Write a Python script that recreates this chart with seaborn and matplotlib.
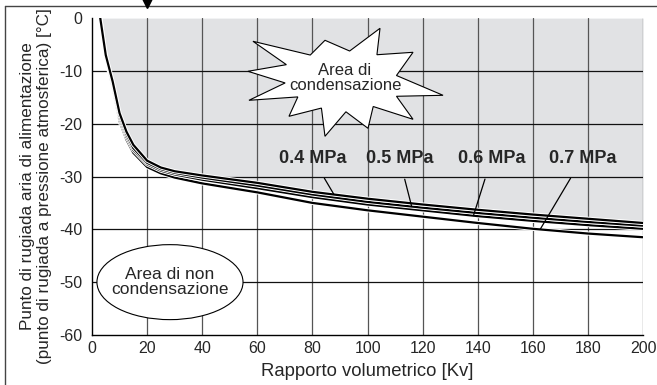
import numpy as np
import pandas as pd
import matplotlib
matplotlib.use("Agg")
import matplotlib.pyplot as plt
import matplotlib.patheffects as pe
from matplotlib.patches import Ellipse, Polygon
from matplotlib.lines import Line2D
import seaborn as sns

# Dati
rapporto = [3, 5, 7.5, 10, 12.5, 15, 20, 25, 30, 40, 60, 80, 100, 120, 140, 160, 180, 200]
punto_04 = [0, -7.0, -12.0, -18.0, -21.5, -24.0, -27.0, -28.3, -29.0, -29.8, -31.2, -32.9, -34.2, -35.3, -36.3, -37.2, -38.0, -38.8]
punto_05 = [0, -7.2, -12.3, -18.5, -22.0, -24.6, -27.4, -28.6, -29.3, -30.2, -31.7, -33.4, -34.8, -35.9, -36.9, -37.8, -38.6, -39.3]
punto_06 = [0, -7.4, -12.6, -19.0, -22.5, -25.0, -27.7, -28.9, -29.6, -30.6, -32.2, -33.9, -35.3, -36.4, -37.5, -38.4, -39.2, -39.9]
punto_07 = [0, -7.6, -13.0, -19.5, -23.0, -25.5, -28.2, -29.4, -30.2, -31.3, -33.0, -35.0, -36.4, -37.6, -38.8, -39.9, -40.8, -41.5]
pressioni = ["0.4 MPa", "0.5 MPa", "0.6 MPa", "0.7 MPa"]

# posizioni delle etichette e punti indicati sulle curve
etichette_x = [80, 111.5, 145, 178]
etichette_y = -26.5
punti_x = [87.8, 116, 138.4, 162.6]

serie = [punto_04, punto_05, punto_06, punto_07]
df = pd.concat([pd.DataFrame({"Kv": rapporto, "T": s, "P": p}) for s, p in zip(serie, pressioni)])

sns.set_style("white")
plt.rcParams['font.family'] = ['Liberation Sans', 'DejaVu Sans']
plt.rcParams['axes.unicode_minus'] = False

fig = plt.figure(figsize=(6.57, 3.85), dpi=100)
ax = fig.add_axes([0.140, 0.130, 0.839, 0.823])

# area di condensazione (sopra la curva superiore)
ax.fill_between(rapporto, punto_04, 0, color="#e1e2e4", zorder=0, lw=0)

for x in range(20, 201, 20):
    ax.axvline(x, color="#555555", lw=0.9, zorder=1)
for y in range(-50, 0, 10):
    ax.axhline(y, color="#111111", lw=0.9, zorder=1)

sns.lineplot(data=df, x="Kv", y="T", hue="P", hue_order=pressioni[::-1],
             palette=["black"] * 4, lw=1.6, legend=False, ax=ax, zorder=3,
             sort=False)
for line in ax.lines[-4:]:
    line.set_path_effects([pe.Stroke(linewidth=3.0, foreground="white"), pe.Normal()])

def curva(xv, s):
    return np.interp(xv, rapporto, s)

for lab, lx, px, s in zip(pressioni, etichette_x, punti_x, serie):
    ax.annotate(lab, xy=(px, curva(px, s)), xytext=(lx, etichette_y),
                ha="center", va="center", fontsize=13, fontweight="bold",
                arrowprops=dict(arrowstyle="-", color="black", lw=0.9,
                                shrinkA=7, shrinkB=0), zorder=5)

# stella "Area di condensazione"
cx, cy = 91.8, -11.4
px_x, px_y = 1 / 2.755, 1 / 5.28
punte = [(-92, -37), (-20, -38), (35, -50), (68, -26), (98, 17), (68, 41),
         (23, 50), (-20, 58), (-56, 38), (-96, 22), (-97, -7)]
verts = []
for i, (a, b) in enumerate(punte):
    verts.append((a, b))
    c, d = punte[(i + 1) % len(punte)]
    verts.append(((a + c) / 2 * 0.62, (b + d) / 2 * 0.62))
verts = [(cx + a * px_x, cy - b * px_y) for a, b in verts]
ax.add_patch(Polygon(verts, closed=True, facecolor="white", edgecolor="black", lw=0.8, zorder=4))
ax.text(cx, cy, "Area di\ncondensazione", ha="center", va="center", fontsize=12,
        linespacing=1.0, zorder=5)

# ellisse "Area di non condensazione"
ax.add_patch(Ellipse((28.3, -50), 53, 14.2, facecolor="white", edgecolor="black", lw=0.8, zorder=4))
ax.text(28.3, -50, "Area di non\ncondensazione", ha="center", va="center", fontsize=12.5,
        linespacing=1.0, zorder=5)

ax.set_xlim(0, 200)
ax.set_ylim(-60, 0)
ax.set_xticks(range(0, 201, 20))
ax.set_yticks(range(-60, 1, 10))
ax.tick_params(axis="x", labelsize=11.5, length=0, pad=4)
ax.tick_params(axis="y", labelsize=11.5, length=0, pad=7)
for side in ["top", "right"]:
    ax.spines[side].set_visible(False)
for side in ["left", "bottom"]:
    ax.spines[side].set_color("black")
    ax.spines[side].set_linewidth(1.0)

ax.set_xlabel("Rapporto volumetrico [Kv]", fontsize=13.3)
ax.xaxis.set_label_coords(0.5, -0.088)
ax.set_ylabel("Punto di rugiada aria di alimentazione\n(punto di rugiada a pressione atmosferica) [°C]",
              fontsize=12.3, linespacing=1.15)
ax.yaxis.set_label_coords(-0.072, 0.47)

# cornice e indicatore in alto
fig.add_artist(Line2D([5 / 657, 5 / 657], [0, 1 - 6 / 385], color="#444444", lw=1.0, transform=fig.transFigure))
fig.add_artist(Line2D([5 / 657, 1], [1 - 6 / 385, 1 - 6 / 385], color="#444444", lw=1.0, transform=fig.transFigure))
fig.add_artist(Line2D([147 / 657], [1 - 3 / 385], marker="v", markersize=7, color="black",
                      transform=fig.transFigure, clip_on=False))

fig.savefig("out.png", dpi=100)
